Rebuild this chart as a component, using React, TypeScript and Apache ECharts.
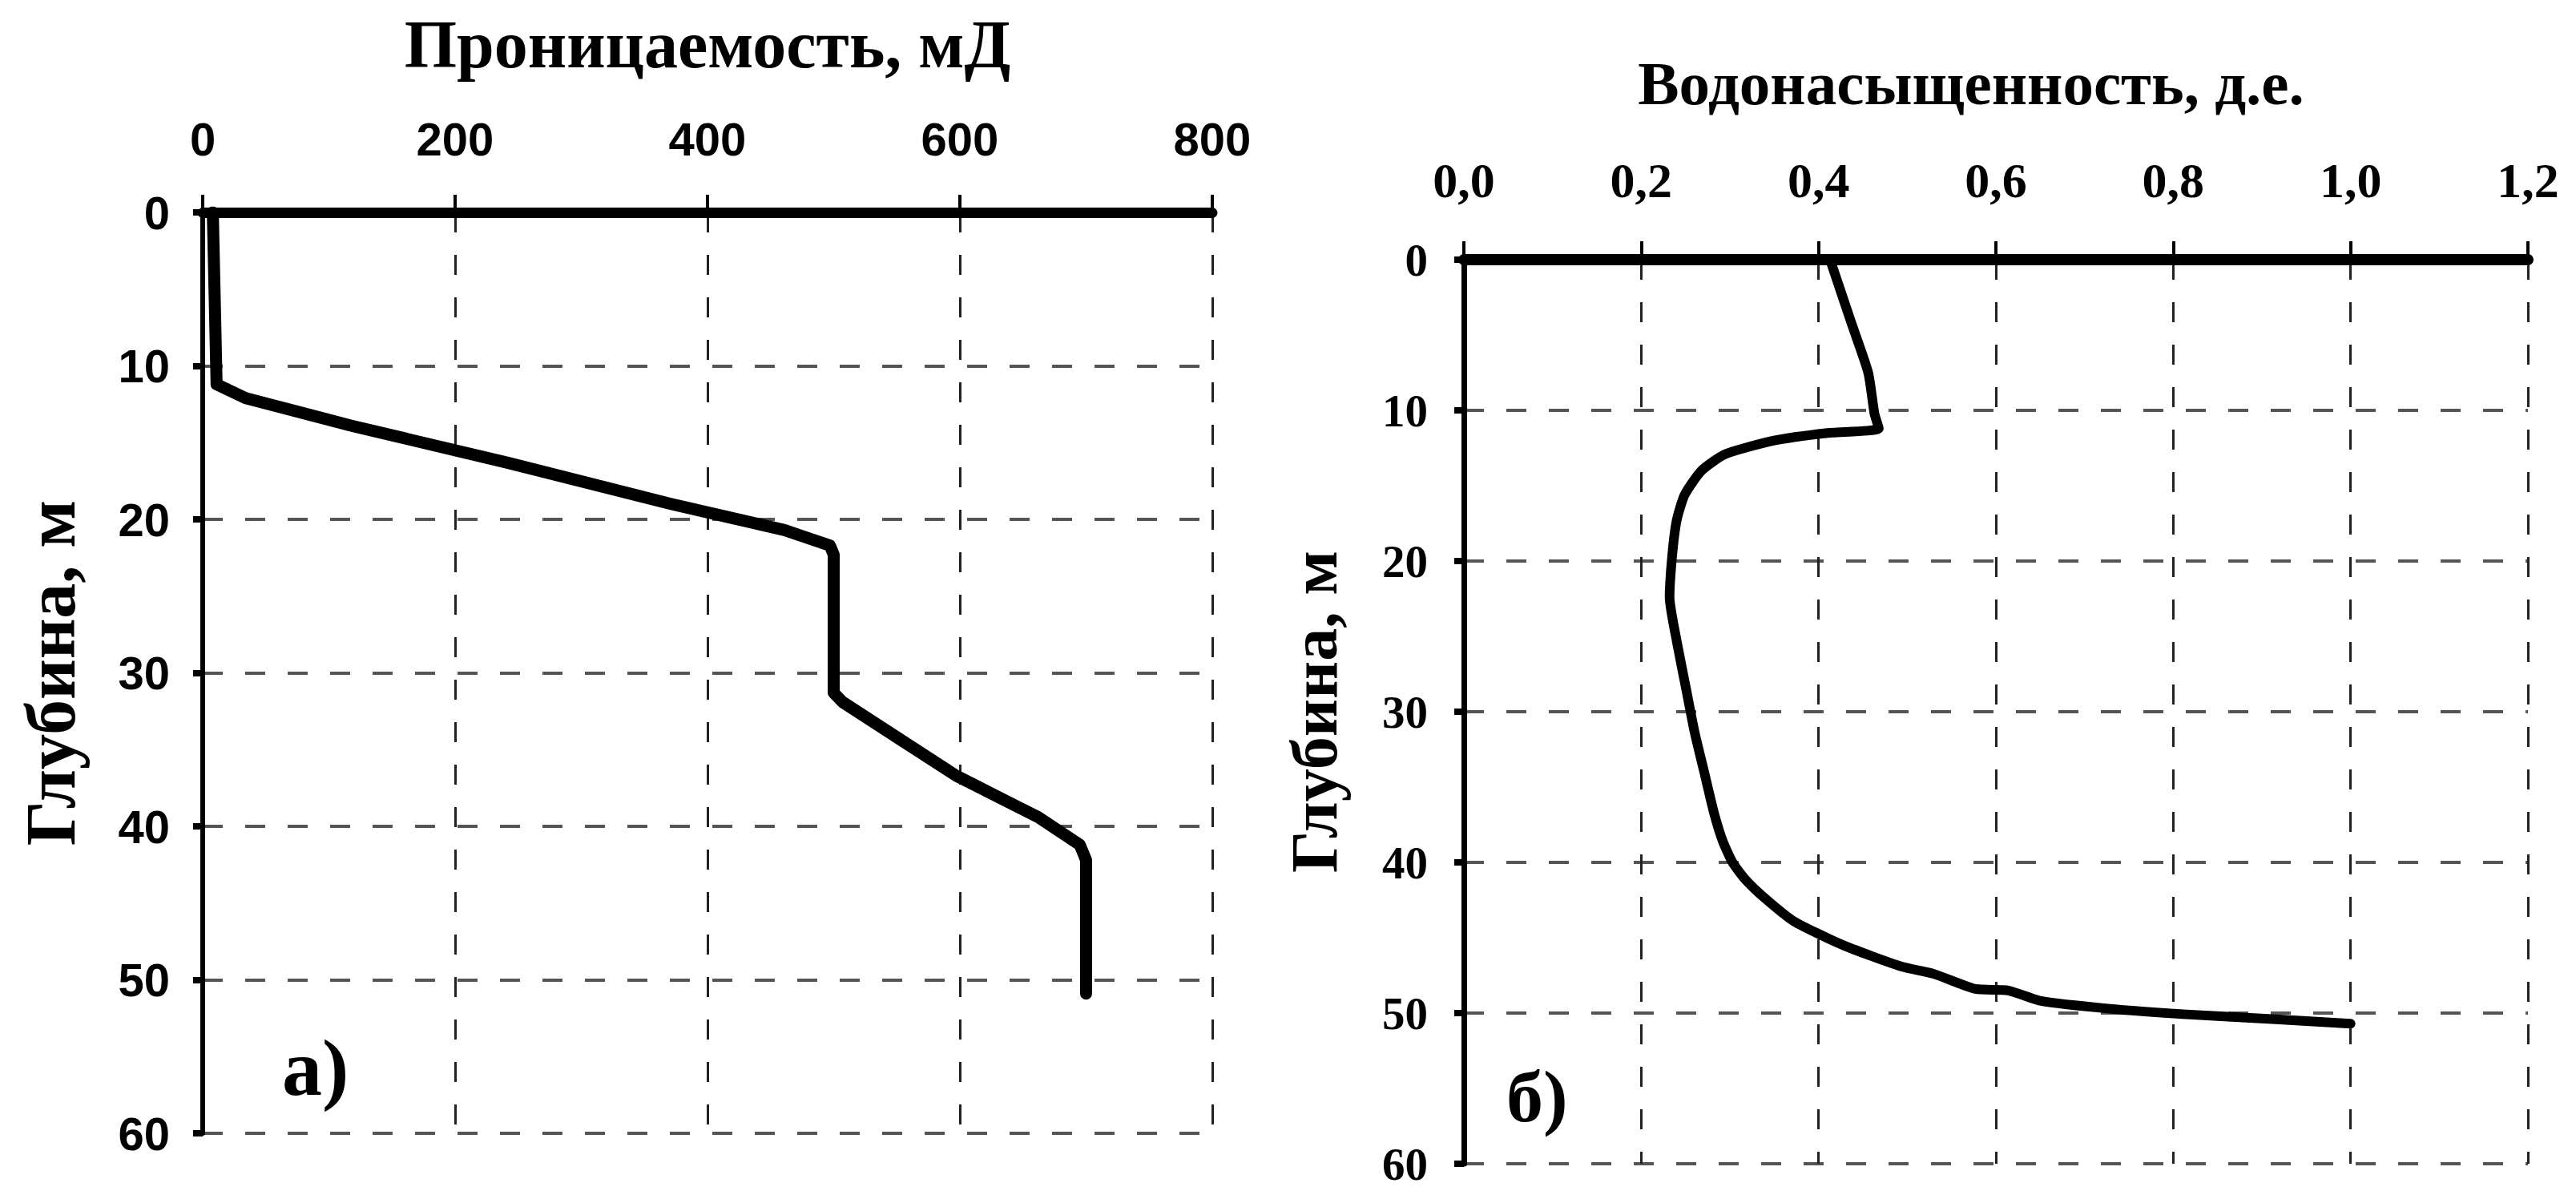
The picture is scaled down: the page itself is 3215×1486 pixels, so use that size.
import React, { useEffect, useRef } from "react";
import * as echarts from "echarts";

// Panel a) permeability vs depth
const permDepth = [0, 11.2, 12.1, 13.9, 16.3, 19.0, 20.7, 21.7, 22.3, 31.3, 31.9, 34.3, 36.7, 39.4, 41.2, 42.2, 50.9];
const permValues = [8, 11, 34, 118, 241, 371, 461, 497, 500, 500, 507, 552, 597, 662, 695, 700, 700];

// Panel б) water saturation vs depth
const satDepth = [0, 4.2, 7.5, 10.2, 11.2, 11.5, 12.0, 12.9, 14.0, 15.6, 17.3, 19.6, 22.4, 25.3, 28.6, 31.3, 34.0, 36.7, 38.6, 40.0, 41.1, 42.3, 43.9, 45.5, 46.9, 47.4, 48.4, 48.5, 49.2, 49.7, 50.1, 50.4, 50.7];
const satValues = [0.413, 0.437, 0.456, 0.463, 0.468, 0.41, 0.35, 0.295, 0.268, 0.249, 0.24, 0.235, 0.232, 0.24, 0.251, 0.26, 0.271, 0.282, 0.292, 0.303, 0.317, 0.338, 0.372, 0.428, 0.493, 0.53, 0.577, 0.614, 0.651, 0.726, 0.819, 0.912, 1.0];

const permTitle = "Проницаемость, мД";
const satTitle = "Водонасыщенность, д.е.";
const depthTitle = "Глубина, м";
const labelA = "а)";
const labelB = "б)";

const SERIF = "'Liberation Serif', 'Times New Roman', serif";
const SANS = "'Liberation Sans', Arial, sans-serif";

export default function App() {
  const ref = useRef<HTMLDivElement>(null);
  useEffect(() => {
    document.body.style.margin = "0";
    const chart = echarts.init(ref.current!, null, { renderer: "svg" });
    const vSplit = { show: true, lineStyle: { type: [25, 28], width: 3, color: "#222" } };
    const hSplit = { show: true, lineStyle: { type: [25, 28], width: 4, color: "#555" } };
    const option: any = {
      animation: false,
      backgroundColor: "#fff",
      grid: [
        { left: 253, top: 265, width: 1260, height: 1149 },
        { left: 1827, top: 324, width: 1328, height: 1128 },
      ],
      xAxis: [
        {
          gridIndex: 0,
          type: "value",
          position: "top",
          min: 0,
          max: 800,
          interval: 200,
          name: permTitle,
          nameLocation: "middle",
          nameGap: 168,
          nameTextStyle: { fontFamily: SERIF, fontWeight: "bold", fontSize: 84, color: "#000" },
          axisLine: { show: true, onZero: false, lineStyle: { color: "#000", width: 13 } },
          axisTick: { show: true, length: 22, lineStyle: { color: "#000", width: 4 } },
          axisLabel: { margin: 63, fontFamily: SANS, fontWeight: "bold", fontSize: 58, color: "#000" },
          splitLine: vSplit,
        },
        {
          gridIndex: 1,
          type: "value",
          position: "top",
          min: 0,
          max: 1.2,
          interval: 0.2,
          name: satTitle,
          nameLocation: "middle",
          nameGap: 182,
          nameTextStyle: { fontFamily: SERIF, fontWeight: "bold", fontSize: 77, color: "#000", padding: [0, 62, 0, 0] },
          axisLine: { show: true, onZero: false, lineStyle: { color: "#000", width: 14 } },
          axisTick: { show: true, length: 23, lineStyle: { color: "#000", width: 4 } },
          axisLabel: {
            margin: 68,
            fontFamily: SERIF,
            fontWeight: "bold",
            fontSize: 62,
            color: "#000",
            formatter: (v: number) => v.toFixed(1).replace(".", ","),
          },
          splitLine: vSplit,
        },
      ],
      yAxis: [
        {
          gridIndex: 0,
          type: "value",
          inverse: true,
          min: 0,
          max: 60,
          interval: 10,
          name: depthTitle,
          nameLocation: "middle",
          nameGap: 146,
          nameTextStyle: { fontFamily: SERIF, fontWeight: "bold", fontSize: 88, color: "#000" },
          axisLine: { show: true, onZero: false, lineStyle: { color: "#000", width: 6 } },
          axisTick: { show: true, length: 12, lineStyle: { color: "#000", width: 8 } },
          axisLabel: { margin: 41, fontFamily: SANS, fontWeight: "bold", fontSize: 58, color: "#000" },
          splitLine: hSplit,
        },
        {
          gridIndex: 1,
          type: "value",
          inverse: true,
          min: 0,
          max: 60,
          interval: 10,
          name: depthTitle,
          nameLocation: "middle",
          nameGap: 146,
          nameTextStyle: { fontFamily: SERIF, fontWeight: "bold", fontSize: 82, color: "#000" },
          axisLine: { show: true, onZero: false, lineStyle: { color: "#000", width: 7 } },
          axisTick: { show: true, length: 12, lineStyle: { color: "#000", width: 8 } },
          axisLabel: { margin: 45, fontFamily: SERIF, fontWeight: "bold", fontSize: 57, color: "#000" },
          splitLine: hSplit,
        },
      ],
      series: [
        {
          type: "line",
          xAxisIndex: 0,
          yAxisIndex: 0,
          data: permDepth.map((d, i) => [permValues[i], d]),
          symbol: "none",
          showSymbol: false,
          lineStyle: { color: "#000", width: 15, join: "round", cap: "round" },
          z: 5,
        },
        {
          type: "line",
          xAxisIndex: 1,
          yAxisIndex: 1,
          data: satDepth.map((d, i) => [satValues[i], d]),
          symbol: "none",
          showSymbol: false,
          smooth: 0.2,
          lineStyle: { color: "#000", width: 12, join: "round", cap: "round" },
          z: 5,
        },
      ],
      graphic: [
        {
          type: "text",
          x: 352,
          y: 1332,
          style: {
            text: labelA,
            fontFamily: SERIF,
            fontWeight: "bold",
            fontSize: 100,
            fill: "#000",
            align: "left",
            verticalAlign: "middle",
            textAlign: "left",
            textVerticalAlign: "middle",
          },
        },
        {
          type: "text",
          x: 1880,
          y: 1368,
          style: {
            text: labelB,
            fontFamily: SERIF,
            fontWeight: "bold",
            fontSize: 92,
            fill: "#000",
            align: "left",
            verticalAlign: "middle",
            textAlign: "left",
            textVerticalAlign: "middle",
          },
        },
      ],
    };
    chart.setOption(option);
    return () => chart.dispose();
  }, []);
  return <div ref={ref} style={{ width: 3215, height: 1486, overflow: "hidden" }} />;
}
